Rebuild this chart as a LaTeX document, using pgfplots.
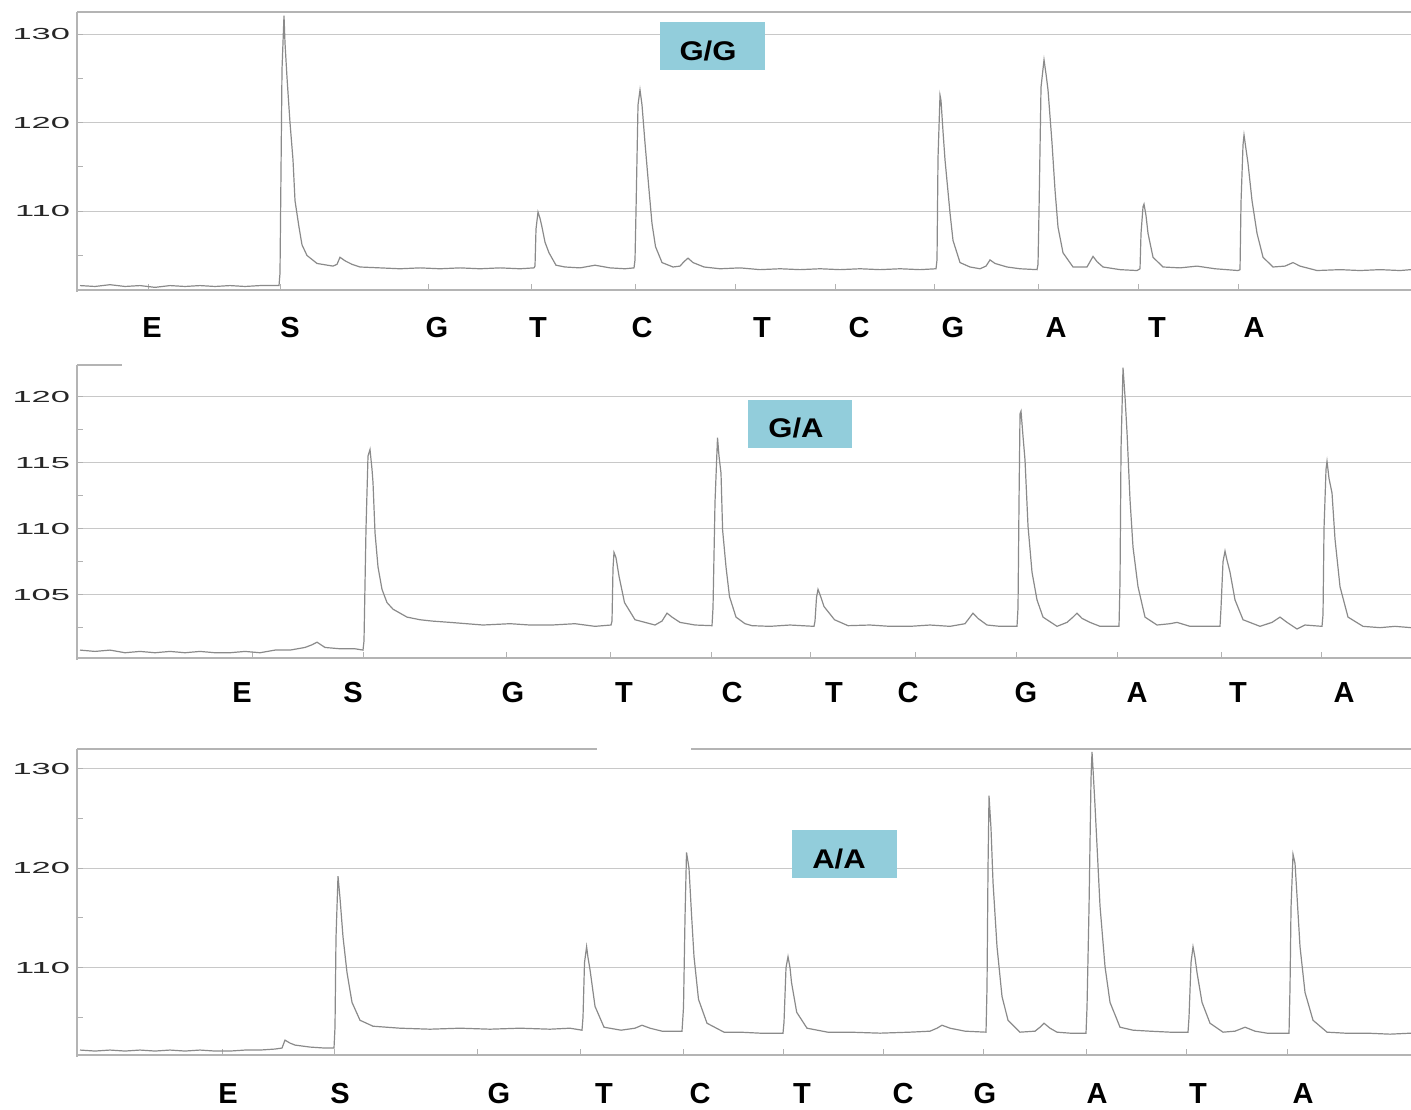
\documentclass[border=0pt]{standalone}
\usepackage{pgfplots}
\pgfplotsset{compat=1.18}
\usepackage{fontspec}
\setmainfont{Liberation Sans}
\definecolor{gridc}{HTML}{C8C8C8}
\definecolor{framec}{HTML}{B4B4B4}
\definecolor{tracec}{HTML}{8A8A8A}
\definecolor{boxc}{HTML}{92CDDB}
\pgfplotsset{pyro/.style={scale only axis, width=667pt, xmin=77, xmax=1411,
  axis line style={draw=none}, ymajorgrids, grid style={draw=gridc, line width=0.6pt},
  ytick pos=left, xtick pos=bottom, tick align=inside,
  major tick length=3pt, minor tick length=3pt,
  tick style={draw=gray!60, line width=0.5pt},
  xticklabels={},
  yticklabel style={font=\fontsize{8}{8}\selectfont, text=black!85},
  clip=true},
  trace/.style={draw=tracec, line width=0.6pt, mark=none}}
\newcommand{\tl}[1]{\scalebox{2.15}[1]{#1}}
\newcommand{\nl}{\fontsize{14.5}{15}\selectfont\bfseries}
\begin{document}
\begin{tikzpicture}
\path[use as bounding box] (0,0) rectangle (705.5pt,-554.5pt);
% Panel 1 G/G
\begin{axis}[pyro, at={(38.5pt,-145pt)}, anchor=south west, height=139pt,
  ymin=101.1, ymax=132.5, ytick={110,120,130}, yticklabels={\tl{110},\tl{120},\tl{130}},
  minor ytick={105,115,125},
  xtick={148,280,428,531,635,735,835,934,1038,1138,1238}]
\addplot[trace] coordinates {
(80,101.6) (95,101.5) (110,101.7) (125,101.5) (140,101.6) (155,101.4) (170,101.6) (185,101.5) (200,101.6) (215,101.5) (230,101.6) (245,101.5) (260,101.6) (279,101.6)
(280,103.0) (282,126) (284,132.1) (285,129) (287,125.1) (290,120) (293,115.8) (295,111.2) (299,108.2) (302,106.2) (307,105.0) (317,104.1) (333,103.8) (337,104.0) (340,104.8) (345,104.4) (352,104.0) (360,103.7) (380,103.6) (400,103.5) (420,103.6) (440,103.5) (460,103.6) (480,103.5) (500,103.6) (520,103.5) (534,103.6)
(535,103.8) (536,108) (538,109.9) (540,109.2) (542,108.2) (545,106.5) (549,105.3) (556,103.9) (565,103.7) (580,103.6) (595,103.9) (610,103.6) (625,103.5) (634,103.6)
(635,104.5) (636,110) (638,122) (640,123.7) (642,122) (645,117.7) (649,112.4) (652,108.6) (655.5,106.0) (662,104.2) (673,103.7) (680,103.8) (684,104.3) (688,104.7) (693,104.2) (704,103.7) (720,103.5) (740,103.6) (760,103.4) (780,103.5) (800,103.4) (820,103.5) (840,103.4) (860,103.5) (880,103.4) (900,103.5) (920,103.4) (936,103.5)
(937,104.5) (938,116) (940,123.1) (941,122.5) (943,119) (945,115.8) (950,109.8) (953,106.7) (960,104.2) (970,103.7) (980,103.5) (986,103.8) (990,104.5) (995,104.1) (1007,103.7) (1020,103.5) (1037,103.4)
(1038,104.0) (1039,110) (1041,124) (1044,127.1) (1046,125.5) (1048,123.7) (1052,117.7) (1055,112.4) (1058,108.2) (1063,105.3) (1073,103.7) (1087,103.7) (1090,104.3) (1093,104.9) (1097,104.3) (1103,103.7) (1120,103.4) (1137,103.3)
(1140,103.5) (1141,107.5) (1143,110.5) (1144,110.8) (1146,109.5) (1148,107.5) (1153,104.8) (1163,103.7) (1180,103.6) (1197,103.8) (1215,103.5) (1238,103.3)
(1240,103.4) (1241,111) (1243,117.5) (1244,118.6) (1246,117) (1248,115.4) (1252,111.2) (1257,107.5) (1263,104.8) (1273,103.7) (1285,103.8) (1293,104.2) (1300,103.8) (1317,103.3) (1340,103.4) (1360,103.3) (1380,103.4) (1400,103.3) (1411,103.4)
};
\end{axis}
% Panel 2 G/A
\begin{axis}[pyro, at={(38.5pt,-329pt)}, anchor=south west, height=146.5pt,
  ymin=100.2, ymax=122.4, ytick={105,110,115,120}, yticklabels={\tl{105},\tl{110},\tl{115},\tl{120}},
  minor ytick={102.5,107.5,112.5,117.5},
  xtick={252,363,506,610,711,810,915,1016,1117,1221,1321}]
\addplot[trace] coordinates {
(80,100.8) (95,100.7) (110,100.8) (125,100.6) (140,100.7) (155,100.6) (170,100.7) (185,100.6) (200,100.7) (215,100.6) (230,100.6) (245,100.7) (260,100.6) (275,100.8) (290,100.8) (305,101.0) (312,101.2) (317,101.4) (325,101.0) (340,100.9) (355,100.9) (363,100.8)
(364,101.5) (366,110) (368,115.5) (370,116.0) (372,114.5) (373,113.5) (375,109.7) (378,107.1) (382,105.4) (387,104.4) (393,103.9) (400,103.6) (407,103.3) (420,103.1) (432,103.0) (450,102.9) (483,102.7) (510,102.8) (530,102.7) (552,102.7) (575,102.8) (595,102.6) (611,102.7)
(612,103.0) (613,107) (614,108.2) (616,107.8) (619,106.4) (624.5,104.4) (635,103.1) (645,102.9) (655,102.7) (662,103.0) (667,103.6) (672,103.3) (680,102.9) (695,102.7) (712,102.65)
(713,104) (715,112) (717.5,116.9) (719,115.5) (721,114.2) (722.6,109.9) (726,107.1) (729.5,104.85) (736,103.3) (745,102.8) (752,102.65) (770,102.6) (790,102.7) (814,102.6)
(815,103.0) (816.5,104.8) (818,105.4) (820,105.0) (824,104.1) (834.5,103.1) (848,102.65) (870,102.7) (890,102.6) (910,102.6) (930,102.7) (950,102.6) (965,102.8) (970,103.3) (973,103.6) (978,103.2) (987,102.7) (1000,102.6) (1017,102.6)
(1018,104) (1019,112) (1020,118.7) (1021,118.9) (1023,117) (1025,115.2) (1028,110.2) (1032,106.7) (1037,104.6) (1043,103.3) (1057,102.6) (1067,102.9) (1073,103.3) (1077,103.6) (1082,103.2) (1090,102.9) (1100,102.6) (1115,102.6) (1119,102.6)
(1120,106) (1121,116) (1123,122.2) (1125,120) (1127,117.3) (1130,112.2) (1133,108.6) (1138,105.6) (1145,103.3) (1157,102.7) (1170,102.8) (1177,102.9) (1190,102.6) (1210,102.6) (1220,102.6)
(1221,104) (1223,107.5) (1225,108.3) (1227,107.6) (1230,106.7) (1235,104.6) (1243,103.1) (1260,102.6) (1272,102.9) (1280,103.3) (1287,102.9) (1297,102.4) (1305,102.7) (1322,102.6)
(1323,103.5) (1324,110) (1326,114.5) (1327,115.1) (1329,113.8) (1332,112.7) (1335,109.2) (1340,105.6) (1348,103.3) (1363,102.6) (1380,102.5) (1395,102.6) (1411,102.5)
};
\end{axis}
% Panel 3 A/A
\begin{axis}[pyro, at={(38.5pt,-527.5pt)}, anchor=south west, height=153pt,
  ymin=101.2, ymax=132, ytick={110,120,130}, yticklabels={\tl{110},\tl{120},\tl{130}},
  minor ytick={105,115,125},
  xtick={222,334,477,580,683,783,883,983,1086,1186,1287}]
\addplot[trace] coordinates {
(80,101.7) (95,101.6) (110,101.7) (125,101.6) (140,101.7) (155,101.6) (170,101.7) (185,101.6) (200,101.7) (215,101.6) (230,101.6) (245,101.7) (260,101.7) (275,101.8) (282,101.9) (285,102.7) (290,102.4) (295,102.2) (310,102.0) (325,101.9) (334,101.9)
(335,104) (336,113) (338,119.2) (340,117) (343,113.1) (347,109.5) (352,106.5) (360,104.7) (373,104.1) (400,103.9) (430,103.8) (460,103.9) (490,103.8) (520,103.9) (550,103.8) (570,103.9) (582,103.7)
(583,105) (584.5,110.5) (586.6,112.1) (588,111) (590,109.8) (595,106.1) (604,104.0) (621,103.7) (635,103.9) (642,104.2) (650,103.9) (662,103.6) (682,103.6)
(683.5,106) (685,115) (686.5,121.6) (689,120) (691.6,115.2) (694,111.1) (698.5,106.8) (707,104.4) (724,103.5) (740,103.5) (760,103.4) (783,103.4)
(784,104.5) (786,110) (788,111.1) (790,110) (791.5,108.5) (796.7,105.5) (807,103.9) (827.7,103.5) (850,103.5) (880,103.4) (910,103.5) (930,103.6) (937,103.9) (942,104.2) (950,103.9) (965,103.6) (986,103.5)
(987,108) (988,120) (989,127.3) (991,124) (993,118.6) (997,112.1) (1002,107.1) (1008,104.7) (1020,103.5) (1035,103.6) (1040,104.0) (1044,104.4) (1050,103.9) (1057,103.5) (1070,103.4) (1086,103.4)
(1087,106) (1089,116) (1091,129) (1092,131.7) (1093,130) (1095,126.3) (1100,116.2) (1105,110.1) (1110,106.5) (1120,104.0) (1133,103.7) (1150,103.6) (1170,103.5) (1188,103.5)
(1189,105) (1191,110.5) (1193,112.1) (1195,111) (1197,109.5) (1202,106.5) (1210,104.4) (1223,103.5) (1235,103.6) (1245,104.0) (1255,103.6) (1267,103.4) (1289,103.4)
(1290,108) (1291,116) (1293,121.4) (1295,120.5) (1297,117.2) (1300,112.1) (1305,107.5) (1313,104.7) (1327,103.5) (1345,103.4) (1367,103.4) (1390,103.3) (1411,103.4)
};
\end{axis}
\begin{scope}[x=0.5pt,y=-0.5pt]
% frames
\draw[framec, line width=0.7pt] (77,12)--(77,292) (77,290)--(1411,290) (77,12)--(1411,12);
\draw[framec, line width=0.7pt] (77,365)--(77,660) (77,658)--(1411,658) (77,365)--(122,365);
\draw[framec, line width=0.7pt] (77,749)--(77,1057) (77,1055)--(1411,1055) (77,749)--(597,749) (691,749)--(1411,749);
% genotype boxes
\fill[boxc] (660,22) rectangle (765,70);
\node[anchor=base, inner sep=0pt, font=\fontsize{13.5}{13.5}\selectfont\bfseries, xscale=1.15] at (708,60) {G/G};
\fill[boxc] (748,400) rectangle (852,448);
\node[anchor=base, inner sep=0pt, font=\fontsize{13.5}{13.5}\selectfont\bfseries, xscale=1.15] at (796,437) {G/A};
\fill[boxc] (792,830) rectangle (897,878);
\node[anchor=base, inner sep=0pt, font=\fontsize{13.5}{13.5}\selectfont\bfseries, xscale=1.15] at (839,868) {A/A};
% dispensation letters
\foreach \x/\t in {152/E,290/S,437/G,538/T,642/C,762/T,859/C,953/G,1056/A,1157/T,1254/A}
  \node[anchor=base, inner sep=0pt, font=\nl] at (\x,337) {\t};
\foreach \x/\t in {242/E,353/S,513/G,624/T,732/C,834/T,908/C,1026/G,1137/A,1238/T,1344/A}
  \node[anchor=base, inner sep=0pt, font=\nl] at (\x,702) {\t};
\foreach \x/\t in {228/E,340/S,499/G,604/T,700/C,802/T,903/C,985/G,1097/A,1198/T,1303/A}
  \node[anchor=base, inner sep=0pt, font=\nl] at (\x,1103) {\t};
\end{scope}
\end{tikzpicture}
\end{document}
